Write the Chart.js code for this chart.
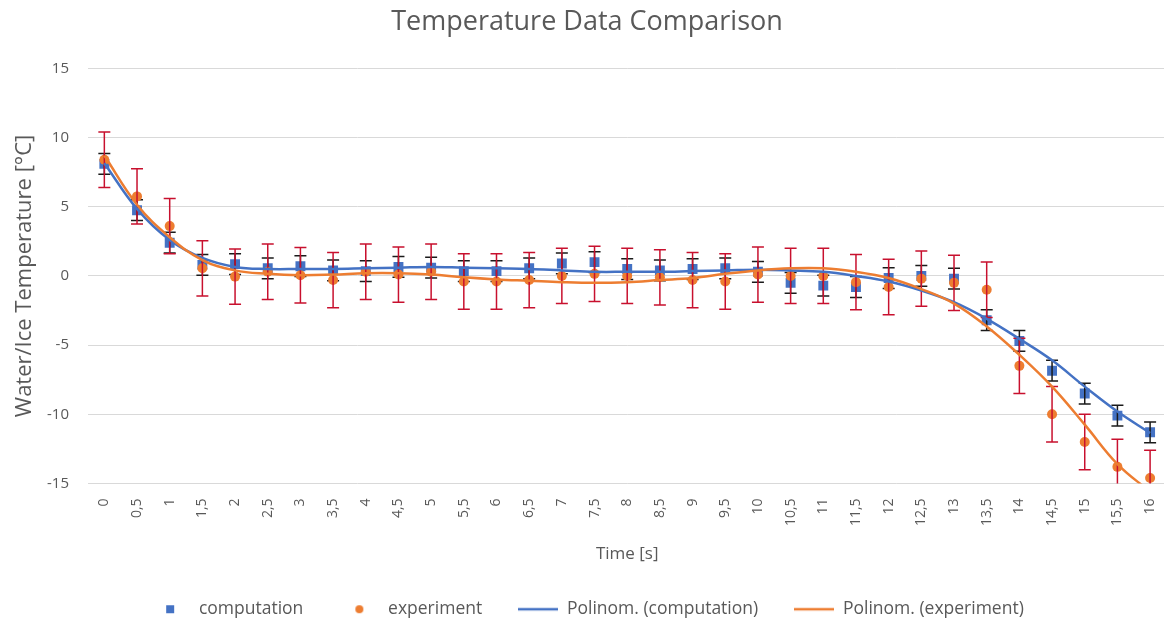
<!DOCTYPE html>
<html>
<head>
<meta charset="utf-8">
<title>Temperature Data Comparison</title>
<script src="https://cdn.jsdelivr.net/npm/chart.js@4.4.1/dist/chart.umd.min.js"></script>
<style>
  html, body { margin: 0; padding: 0; background: #fff; overflow: hidden; }
  #wrap { position: relative; width: 1174px; height: 628px; }
</style>
</head>
<body>
<div id="wrap"><canvas id="chart"></canvas></div>
<script>
// data
const timeLabels = ["0","0,5","1","1,5","2","2,5","3","3,5","4","4,5","5","5,5","6","6,5","7","7,5",
  "8","8,5","9","9,5","10","10,5","11","11,5","12","12,5","13","13,5","14","14,5","15","15,5","16"];

const computation = [8.1, 4.75, 2.4, 0.8, 0.85, 0.55, 0.7, 0.4, 0.35, 0.65, 0.6, 0.35, 0.35, 0.55, 0.9, 1.0,
  0.5, 0.4, 0.5, 0.55, 0.3, -0.5, -0.7, -0.8, -0.15, 0.0, -0.2, -3.2, -4.7, -6.85, -8.5, -10.1, -11.3];
const computationErr = [0.75, 0.75, 0.75, 0.75, 0.75, 0.75, 0.75, 0.75, 0.75, 0.75, 0.75, 0.75, 0.75, 0.75, 0.75, 0.75,
  0.75, 0.75, 0.75, 0.75, 0.75, 0.75, 0.75, 0.75, 0.75, 0.75, 0.75, 0.75, 0.75, 0.75, 0.75, 0.75, 0.75];

const experiment = [8.4, 5.75, 3.6, 0.55, -0.05, 0.3, 0.05, -0.3, 0.3, 0.1, 0.3, -0.4, -0.4, -0.3, 0.0, 0.15,
  0.0, -0.1, -0.3, -0.4, 0.1, 0.0, 0.0, -0.45, -0.8, -0.2, -0.5, -1.0, -6.5, -10.0, -12.0, -13.8, -14.6];
const experimentErr = [2, 2, 2, 2, 2, 2, 2, 2, 2, 2, 2, 2, 2, 2, 2, 2,
  2, 2, 2, 2, 2, 2, 2, 2, 2, 2, 2, 2, 2, 2, 2, 2, 2];

// polynomial trendlines (values read at each category)
const trendComputation = [8.15, 4.85, 2.6, 1.3, 0.65, 0.5, 0.5, 0.5, 0.55, 0.6, 0.65, 0.6, 0.55, 0.5, 0.4, 0.3,
  0.3, 0.3, 0.35, 0.4, 0.45, 0.4, 0.3, 0.0, -0.4, -1.05, -1.9, -3.1, -4.55, -6.1, -8.0, -9.8, -11.35];
const trendExperiment = [8.7, 5.15, 2.8, 1.15, 0.4, 0.15, 0.05, 0.1, 0.2, 0.2, 0.1, -0.1, -0.25, -0.35, -0.45, -0.5,
  -0.45, -0.3, -0.15, 0.15, 0.4, 0.55, 0.55, 0.3, -0.15, -0.95, -2.0, -3.65, -5.7, -8.0, -10.75, -13.6, -15.6];

const yTicks = [-15, -10, -5, 0, 5, 10, 15];

const BLUE = "#4472C4";
const ORANGE = "#ED7D31";
const TEXT = "#595959";
const FONT = "'Open Sans', 'Noto Sans', sans-serif";

// error bars drawn right after their own dataset
const errorBarPlugin = {
  id: "errorBars",
  afterDatasetDraw(chart, args) {
    const ds = chart.data.datasets[args.index];
    if (!ds.errors) return;
    const { ctx, chartArea } = chart;
    const y = chart.scales.y;
    ctx.save();
    ctx.beginPath();
    ctx.rect(chartArea.left, chartArea.top, chartArea.right - chartArea.left, chartArea.bottom - chartArea.top);
    ctx.clip();
    ctx.strokeStyle = ds.errorColor;
    ctx.lineWidth = 1.5;
    args.meta.data.forEach((pt, i) => {
      const v = ds.data[i], e = ds.errors[i];
      const top = y.getPixelForValue(v + e);
      const bot = y.getPixelForValue(v - e);
      ctx.beginPath();
      ctx.moveTo(pt.x, top); ctx.lineTo(pt.x, bot);
      ctx.moveTo(pt.x - 6, top); ctx.lineTo(pt.x + 6, top);
      ctx.moveTo(pt.x - 6, bot); ctx.lineTo(pt.x + 6, bot);
      ctx.stroke();
    });
    ctx.restore();
  }
};

// small legend icons
function legendIcon(kind, color) {
  const c = document.createElement("canvas");
  c.width = 40; c.height = 12;
  const g = c.getContext("2d");
  g.fillStyle = color; g.strokeStyle = color;
  if (kind === "rect") g.fillRect(16, 2, 8, 8);
  else if (kind === "circle") { g.beginPath(); g.arc(20, 6, 4, 0, Math.PI * 2); g.fill(); }
  else { g.lineWidth = 2.5; g.beginPath(); g.moveTo(0, 6); g.lineTo(40, 6); g.stroke(); }
  return c;
}

const chart = new Chart(document.getElementById("chart"), {
  type: "line",
  data: {
    labels: timeLabels,
    datasets: [
      { label: "computation", data: computation, errors: computationErr, errorColor: "#1a1a1a",
        showLine: false, pointStyle: "rect", pointRadius: 7, backgroundColor: BLUE, borderColor: BLUE,
        pointBorderWidth: 0, order: 4, legendIcon: legendIcon("rect", BLUE) },
      { label: "experiment", data: experiment, errors: experimentErr, errorColor: "#C8102E",
        showLine: false, pointStyle: "circle", pointRadius: 5, backgroundColor: ORANGE, borderColor: ORANGE,
        pointBorderWidth: 0, order: 3, legendIcon: legendIcon("circle", ORANGE) },
      { label: "Polinom. (computation)", data: trendComputation, borderColor: BLUE, borderWidth: 2.5,
        pointRadius: 0, tension: 0.4, order: 2, legendIcon: legendIcon("line", BLUE) },
      { label: "Polinom. (experiment)", data: trendExperiment, borderColor: ORANGE, borderWidth: 2.5,
        pointRadius: 0, tension: 0.4, order: 1, legendIcon: legendIcon("line", ORANGE) }
    ]
  },
  options: {
    responsive: true,
    maintainAspectRatio: false,
    animation: false,
    layout: { padding: { left: 4, right: 4, top: 0, bottom: 0 } },
    plugins: {
      title: {
        display: true, text: "Temperature Data Comparison", color: TEXT,
        font: { family: FONT, size: 27, weight: "normal" }, padding: { top: 6, bottom: 30 }
      },
      legend: {
        position: "bottom",
        labels: {
          color: TEXT, font: { family: FONT, size: 17.5 }, usePointStyle: true, pointStyleWidth: 40,
          padding: 36,
          generateLabels: (c) => c.data.datasets.map((ds, i) => ({
            text: ds.label, pointStyle: ds.legendIcon, fontColor: TEXT, datasetIndex: i,
            lineWidth: 0, hidden: false
          }))
        }
      },
      tooltip: { enabled: false }
    },
    scales: {
      x: {
        offset: true,
        grid: { display: false },
        border: { display: false },
        ticks: { color: TEXT, font: { family: FONT, size: 14 }, minRotation: 90, maxRotation: 90, autoSkip: false, padding: 7 },
        title: { display: true, text: "Time [s]", color: TEXT, font: { family: FONT, size: 17 }, padding: { top: 11, bottom: 0 } }
      },
      y: {
        min: -15, max: 15,
        afterBuildTicks: (s) => { s.ticks = yTicks.map(v => ({ value: v })); },
        afterFit: (s) => { s.width = 84; },
        grid: { color: "#d9d9d9", drawTicks: false, lineWidth: 1 },
        border: { display: false },
        ticks: { color: TEXT, font: { family: FONT, size: 15 }, padding: 19 },
        title: { display: true, text: "Water/Ice Temperature [°C]", color: TEXT, font: { family: FONT, size: 22 }, padding: { top: 8, bottom: 0 } }
      }
    }
  },
  plugins: [errorBarPlugin]
});
</script>
</body>
</html>
